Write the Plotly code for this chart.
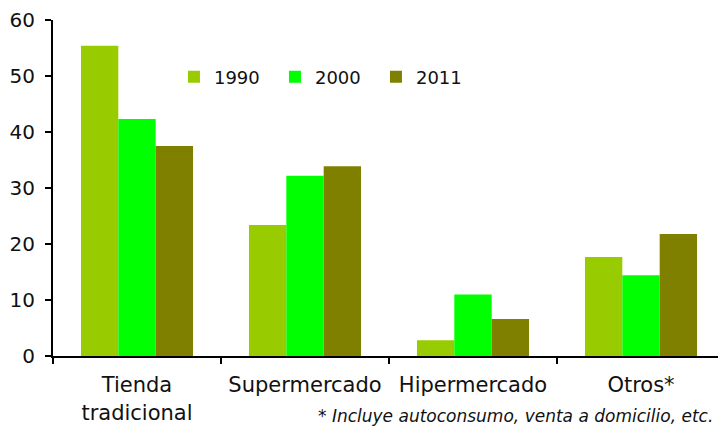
import plotly.graph_objects as go

categories = ["Tienda<br>tradicional", "Supermercado", "Hipermercado", "Otros*"]
years = ["1990", "2000", "2011"]
v1990 = [55.4, 23.4, 2.8, 17.7]
v2000 = [42.3, 32.2, 11.0, 14.4]
v2011 = [37.5, 33.9, 6.6, 21.8]
colors = ["#99CC00", "#00FF00", "#808000"]

fig = go.Figure()
for name, vals, col in zip(years, [v1990, v2000, v2011], colors):
    fig.add_trace(go.Bar(x=categories, y=vals, name=name,
                         marker=dict(color=col, line=dict(width=0))))

# page body has an 8px margin, so the figure is 8px smaller than the window
font = "Verdana, DejaVu Sans, sans-serif"
fig.update_layout(
    width=718, height=420,
    barmode="group", bargap=0.333, bargroupgap=0,
    paper_bgcolor="white", plot_bgcolor="white",
    font=dict(family=font, size=20, color="#111111"),
    margin=dict(l=45, r=1, t=12, b=72),
    legend=dict(orientation="h", x=0.18, y=0.83, xanchor="left", yanchor="middle",
                font=dict(size=18), entrywidth=56, bgcolor="rgba(0,0,0,0)"),
    xaxis=dict(showline=True, linecolor="black", linewidth=2, ticks="outside",
               tickson="boundaries", ticklen=6, tickwidth=2, tickcolor="black",
               tickfont=dict(size=21), ticklabelstandoff=9,
               showgrid=False, automargin=False),
    yaxis=dict(range=[0, 60], dtick=10, showline=True, linecolor="black", linewidth=2,
               ticks="outside", ticklen=6, tickwidth=2, tickcolor="black",
               ticklabelstandoff=6,
               showgrid=False, zeroline=False, automargin=False),
    annotations=[dict(text="<i>* Incluye autoconsumo, venta a domicilio, etc.</i>",
                      xref="paper", yref="paper", x=0.985, y=-0.18, xanchor="right",
                      yanchor="middle", showarrow=False, font=dict(size=17))],
)

fig.write_html("out.html")
